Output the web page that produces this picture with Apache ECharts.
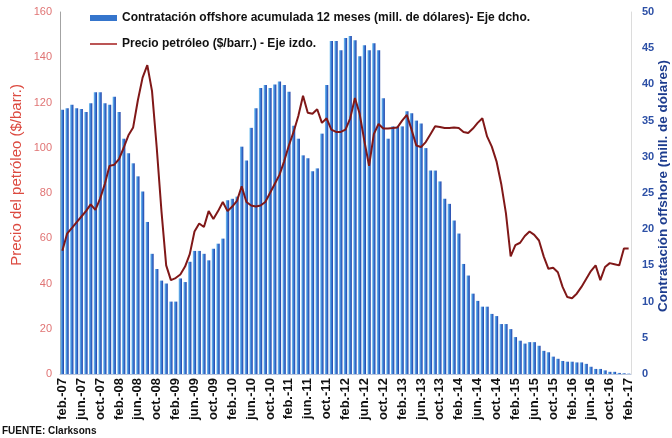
<!DOCTYPE html>
<html>
<head>
<meta charset="utf-8">
<script src="https://cdn.jsdelivr.net/npm/echarts@6/dist/echarts.min.js"></script>
<style>
html,body{margin:0;padding:0;background:#fff;}
#c{width:672px;height:438px;}
</style>
</head>
<body>
<div id="c"></div>
<script>
// Month labels
const MONTHS = ['ene.','feb.','mar.','abr.','may.','jun.','jul.','ago.','sep.','oct.','nov.','dic.'];
const START_YEAR = 7, START_MONTH = 1, N_MONTHS = 121;

// Contratación offshore acumulada 12 meses (mill. de dólares) - right axis
const offshore = [
 36.5,36.7,37.2,36.7,36.6,36.2,37.4,38.9,38.9,37.4,37.2,38.3,
 36.2,32.5,30.5,29.1,27.3,25.2,21,16.6,14.5,12.9,12.5,10,
 10,13.2,12.7,15.5,17,17,16.6,15.7,17.3,18,18.7,24,
 24.2,24.5,31.4,29.5,34,36.7,39.5,39.9,39.5,40,40.4,39.9,
 39,34.3,32.5,30.2,29.8,28,28.4,33.2,39.9,46,46,44.7,
 46.4,46.7,46.1,43.9,45.4,44.7,45.7,44.7,38.1,32.5,34.2,34.2,
 34.2,36.3,36,35,34.6,31.2,28.1,28.1,26.6,24.2,23.5,21.2,
 19.4,15.2,13.6,11.1,10.1,9.3,9.3,8.3,8,6.9,6.9,6.2,
 5.1,4.6,4.2,4.4,4.4,3.9,3.2,3,2.4,2.1,1.8,1.7,
 1.7,1.6,1.6,1.4,1,0.7,0.7,0.5,0.3,0.3,0.15,0.1,
 0.05
];

// Precio petróleo ($/barr.) - left axis
const oilPrice = [
 54.5,62,64.5,67,69.5,72,75,72.5,77.5,84,92,92.5,
 95,100,105.5,109,121,131,136.5,125,100,72,48,41.5,
 42.4,44,47.5,53,63,66.5,65,72,68.5,72,76,72,
 74,76.5,83,76,74.5,74,74.5,76,80,84,88,94,
 101,107,114,123,115.5,115,117,111,113,108,107,107,
 108,113,122,115,103,92,106,110.5,108.5,108.5,108.7,109,
 112,114.5,108,101,100.3,102.5,106,109.5,109.2,108.7,108.7,109,
 108.7,107,106.5,108.5,111,113,105,100.5,94,84,71,52,
 57,58,61,63,61.5,59,52,46.5,47,45,38.5,34,
 33.5,35.5,38.5,42,45.5,48,41.5,47.3,49,48.5,48,55.5,
 55.5
];

const leftTicks = {min:0, max:160, interval:20};
const rightTicks = {min:0, max:50, interval:5};

const categories = [];
for (let i = 0; i < N_MONTHS; i++) {
  const m = (START_MONTH + i) % 12;
  const y = START_YEAR + Math.floor((START_MONTH + i) / 12);
  categories.push(MONTHS[m] + '-' + String(y).padStart(2,'0'));
}

const BAR_NAME = 'Contratación offshore acumulada 12 meses (mill. de dólares)- Eje dcho.';
const LINE_NAME = 'Precio petróleo ($/barr.) - Eje izdo.';
const FONT = '"Liberation Sans", Arial, sans-serif';
const chart = echarts.init(document.getElementById('c'), null, {renderer:'canvas'});
chart.setOption({
  animation: false,
  backgroundColor: '#ffffff',
  textStyle: {fontFamily: FONT},
  grid: {left: 60, right: 41, top: 12, bottom: 64, containLabel: false},
  legend: {
    orient: 'vertical', left: 85, top: 7, itemWidth: 27, itemHeight: 6, itemGap: 14, padding: 5,
    textStyle: {fontFamily: FONT, fontWeight: 'bold', fontSize: 12, color: '#111'},
    data: [
      {name: BAR_NAME, icon: 'rect', itemStyle: {color: '#3575cc'}},
      {name: LINE_NAME, icon: 'path://M0,0H0.01V0.01H0Z M0,2.2H30V3.8H0Z M29.99,6H30V6.01H29.99Z', itemStyle: {color: '#a51e1e'}}
    ]
  },
  xAxis: {
    type: 'category', data: categories, boundaryGap: true,
    axisLine: {show: true, lineStyle: {color: '#b9c6de', width: 1}},
    axisTick: {show: false},
    axisLabel: {interval: 3, rotate: 90, margin: 4, fontFamily: FONT, fontWeight: 'bold', fontSize: 13, color: '#111'},
    splitLine: {show: false}
  },
  yAxis: [
    {
      type: 'value', position: 'left', min: leftTicks.min, max: leftTicks.max, interval: leftTicks.interval,
      axisLine: {show: true, lineStyle: {color: '#a3a3a3', width: 1}},
      axisTick: {show: false},
      splitLine: {show: false},
      axisLabel: {margin: 8, fontFamily: FONT, fontSize: 11, color: '#e07474'}
    },
    {
      type: 'value', position: 'right', min: rightTicks.min, max: rightTicks.max, interval: rightTicks.interval,
      axisLine: {show: true, lineStyle: {color: '#dcdcdc', width: 1}},
      axisTick: {show: false},
      splitLine: {show: false},
      axisLabel: {margin: 11, fontFamily: FONT, fontSize: 11, fontWeight: 'bold', color: '#2d50a6'}
    }
  ],
  series: [
    {
      name: BAR_NAME,
      type: 'bar', yAxisIndex: 1, data: offshore, barWidth: '70%',
      itemStyle: {
        color: new echarts.graphic.LinearGradient(0, 0, 1, 0, [
          {offset: 0, color: '#78c4f2'},
          {offset: 0.5, color: '#3a7bd4'},
          {offset: 1, color: '#2140a4'}
        ])
      }
    },
    {
      name: LINE_NAME,
      type: 'line', yAxisIndex: 0, data: oilPrice, symbol: 'none', smooth: false,
      lineStyle: {color: '#801818', width: 2},
      itemStyle: {color: '#a51e1e'}
    }
  ],
  graphic: [
    {type: 'text', left: 9, top: 84, rotation: Math.PI/2,
     style: {text: 'Precio del petróleo ($/barr.)', font: '15px ' + FONT, fill: '#dc4a40'}},
    {type: 'text', left: 656, top: 60, rotation: Math.PI/2,
     style: {text: 'Contratación offshore (mill. de dólares)', font: 'bold 13.5px ' + FONT, fill: '#1d3c8e'}},
    {type: 'text', left: 2, top: 426,
     style: {text: 'FUENTE: Clarksons', font: 'bold 10px ' + FONT, fill: '#111'}}
  ]
});
</script>
</body>
</html>
